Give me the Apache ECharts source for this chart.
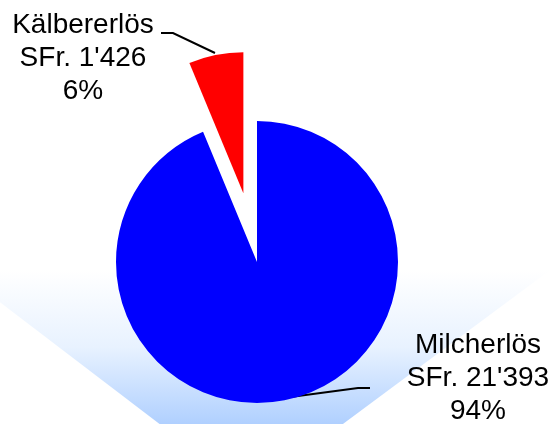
<!DOCTYPE html>
<html>
<head>
<meta charset="utf-8">
<script src="https://cdn.jsdelivr.net/npm/echarts@6/dist/echarts.min.js"></script>
<style>
html,body{margin:0;padding:0;background:#fff;}
#c{width:555px;height:424px;}
</style>
</head>
<body>
<div id="c"></div>
<script>
var categories = ['Milcherlös', 'Kälbererlös'];
var values = [21393, 1426];
var colors = ['#0000ff', '#ff0000'];
var exploded = [false, true];

// layout config (pixels)
var pieCenter = [257, 262];
var pieRadius = 141;
var explodeOffset = 70;
var labelPos = [
  {x: 478, y: 378, line: [[268, 400], [358, 388], [370, 388]]},
  {x: 83, y: 58, line: [[215, 53], [173, 33], [161, 33]]}
];

function fmtNum(v) {
  return String(v).replace(/\B(?=(\d{3})+(?!\d))/g, "'");
}

var total = values.reduce(function (a, b) { return a + b; }, 0);

// offset of the exploded slice along its bisector (pie starts at 12 o'clock, clockwise)
function sliceCenter(idx) {
  if (!exploded[idx]) return pieCenter.slice();
  var before = 0;
  for (var k = 0; k < idx; k++) before += values[k];
  var midFrac = (before + values[idx] / 2) / total;
  var ang = (90 - midFrac * 360) * Math.PI / 180;
  return [pieCenter[0] + explodeOffset * Math.cos(ang), pieCenter[1] - explodeOffset * Math.sin(ang)];
}

var labelStyle = {
  show: true,
  position: 'outside',
  fontFamily: 'Liberation Sans, Arial, sans-serif',
  fontSize: 28,
  lineHeight: 33,
  color: '#000',
  align: 'center',
  formatter: function (p) {
    return p.name + '\nSFr. ' + fmtNum(p.value) + '\n' + Math.round(p.value / total * 100) + '%';
  }
};

var series = categories.map(function (c, s) {
  return {
    type: 'pie',
    center: sliceCenter(s),
    radius: pieRadius,
    startAngle: 90,
    clockwise: true,
    avoidLabelOverlap: false,
    emphasis: {disabled: true},
    silent: true,
    itemStyle: {borderWidth: 0},
    label: labelStyle,
    labelLine: {show: true, length: 10, length2: 10, lineStyle: {color: '#000', width: 2}},
    labelLayout: function (params) {
      var lp = labelPos[params.dataIndex];
      return {x: lp.x, y: lp.y, align: 'center', verticalAlign: 'middle', labelLinePoints: lp.line};
    },
    data: categories.map(function (name, i) {
      var own = i === s;
      return {
        name: name,
        value: values[i],
        itemStyle: {color: own ? colors[i] : 'rgba(0,0,0,0)'},
        label: {show: own},
        labelLine: {show: own}
      };
    })
  };
});

var chart = echarts.init(document.getElementById('c'), null, {renderer: 'canvas'});
chart.setOption({
  animation: false,
  backgroundColor: '#ffffff',
  graphic: [{
    type: 'polygon',
    z: -10,
    silent: true,
    shape: {points: [[-100, 226], [250, 493], [650, 196], [250, 0]]},
    style: {
      fill: {
        type: 'linear', x: 0, y: 270, x2: 0, y2: 424, global: true,
        colorStops: [
          {offset: 0, color: '#ffffff'},
          {offset: 0.5, color: '#e8f2ff'},
          {offset: 1, color: '#b0d0ff'}
        ]
      }
    }
  }],
  series: series
});
</script>
</body>
</html>
